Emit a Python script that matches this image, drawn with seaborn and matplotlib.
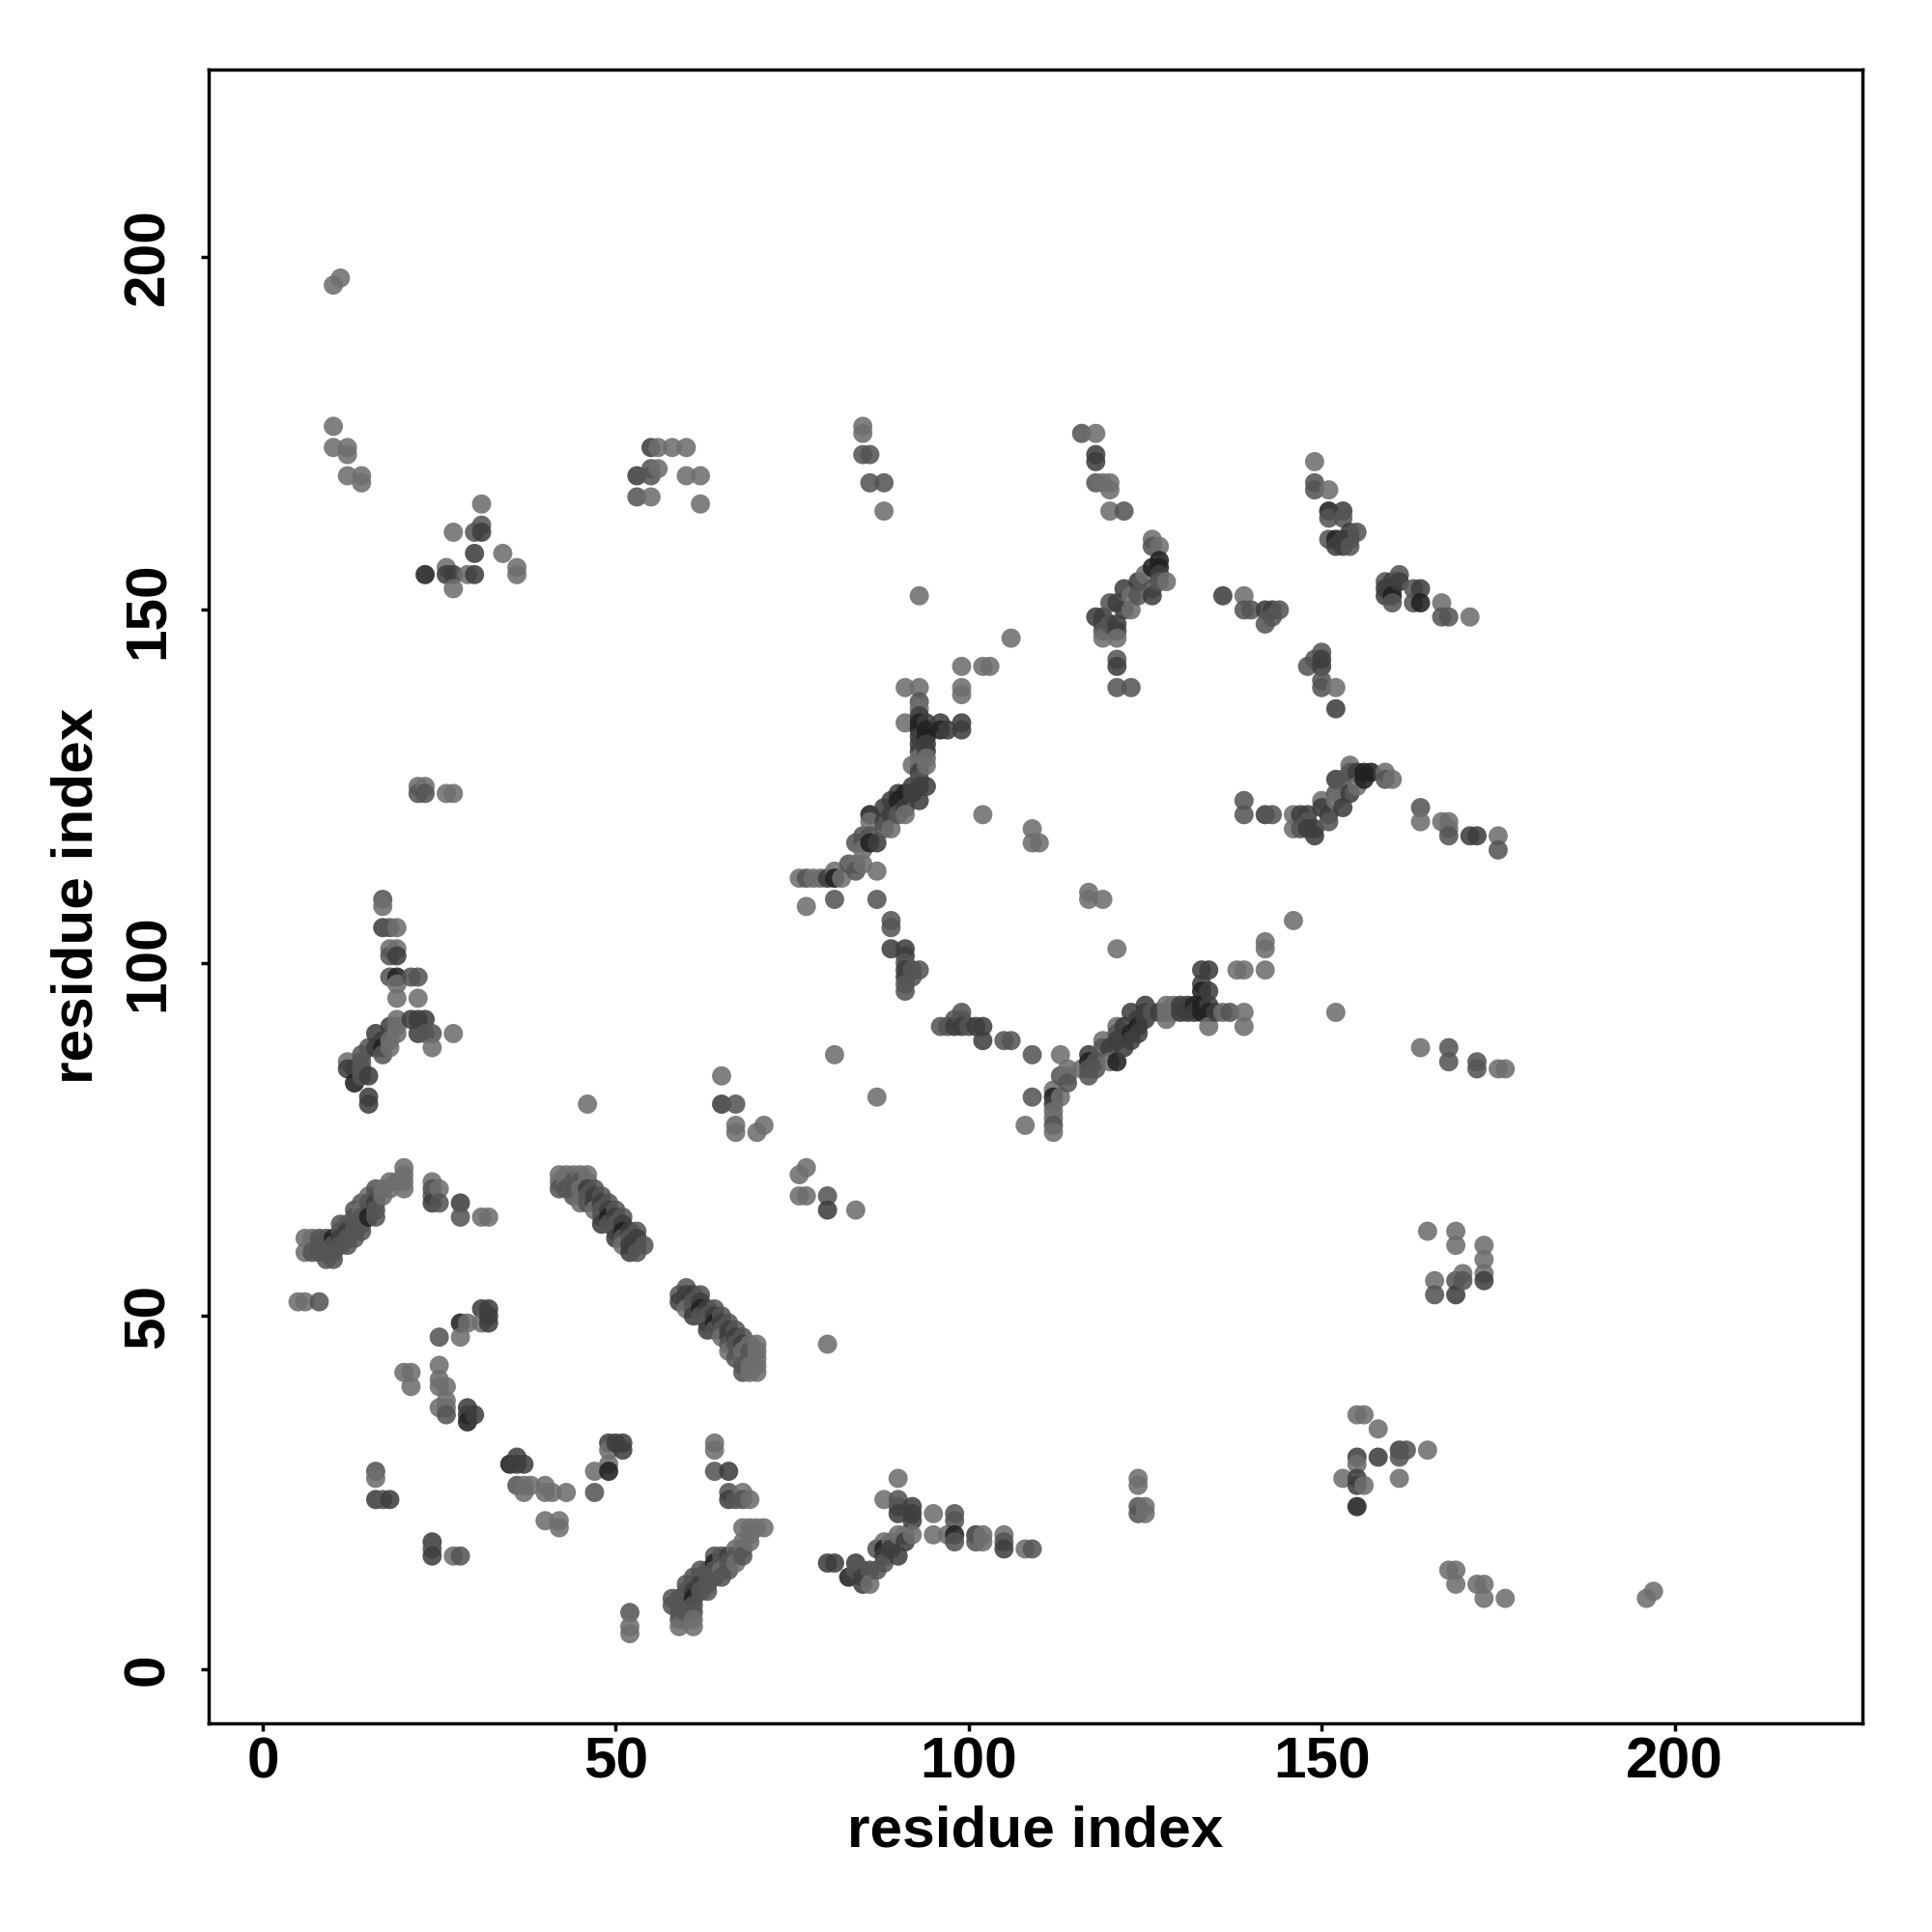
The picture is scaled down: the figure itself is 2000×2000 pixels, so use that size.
import numpy as np
import pandas as pd
import seaborn as sns
import matplotlib
matplotlib.use('Agg')
import matplotlib.pyplot as plt

# contact pairs, grouped by how dark the dot is
contacts_light = [
    (196,10),(197,11),(176,10),(173,10),(172,12),(169,14),(168,14),(169,12),(173,12),
    (165,62),(169,62),(169,60),(173,60),(173,58),(166,55),(170,56),(173,56),
    (156,36),(155,36),(158,34),(165,31),(161,27),(156,26),(153,27),(155,29),
    (42,20),(42,21),(40,21),(43,25),(41,25),(40,25),(40,26),(37,25),(38,26),(37,26),
    (64,32),(64,31),(69,24),(68,25),(27,16),(52,6),(52,5),(49,31),(49,29),(47,28),
    (71,20),(70,20),(69,19),(69,18),(68,18),(68,17),(67,17),(61,6),(61,7),(59,6),
    (90,27),(88,24),(95,22),(95,19),(97,19),(102,19),(102,18),(105,19),(108,17),(91,19),(92,19),(90,19),(88,18),(89,18),(86,12),
    (124,27),(124,26),(125,23),(125,22),
    (146,106),(142,103),(142,99),(138,99),(139,99),(139,93),(139,91),(134,91),(136,93),(152,93),(121,102),
    (117,110),(117,109),(119,109),(164,88),(175,85),(176,85),(113,87),(108,77),(87,81),
    (112,76),(112,79),(112,78),(77,67),(76,67),(76,70),(77,71),(84,65),(80,46),
    (43,68),(42,69),(44,70),(45,70),(46,70),(44,69),(46,69),(45,68),(68,46),(69,46),(70,46),(70,45),(70,43),(70,42),(69,42),(68,42),(69,43),
    (112,82),(114,85),(114,84),(113,81),(116,85),(120,86),(121,91),(119,89),(129,94),(129,93),(128,94),(128,92),(130,94),
    (175,118),(168,119),(167,120),(164,120),(160,126),(159,127),(154,128),(146,121),(146,119),(150,123),(152,123),(155,125),
    (171,149),(167,151),(168,120),(139,150),(139,152),(143,149),(152,139),(146,106),(152,93),(142,103),(142,102),
    (142,99),(139,99),(138,99),(139,91),(139,93),(136,93),(134,91),(128,92),(128,93),(128,94),(129,94),
    (65,14),(67,15),(68,20),(69,20),(60,51),(62,50),(64,48),(45,66),(47,65),(49,63),(51,61),(53,59),
]
contacts_mid = [
    (47,25),(36,26),(28,16),(24,17),(68,24),(67,24),(64,28),(66,25),(52,8),(58,9),(59,10),(60,12),(60,11),(61,9),(61,8),
    (62,14),(64,16),(85,14),(86,14),(84,14),(87,17),(87,14),(88,15),(90,24),(90,23),(98,22),(98,21),(98,18),(101,18),(105,18),(109,17),
    (124,23),(124,22),(166,53),(170,55),(169,55),(161,30),(162,31),
    (134,99),(133,99),(137,93),(134,93),(125,92),(126,93),(121,90),(119,88),(117,84),(118,85),(118,86),(117,85),
    (109,87),(109,81),(106,89),(105,89),(112,81),(112,77),(114,83),(113,84),(100,91),(99,93),(99,92),(98,92),(96,91),(97,91),
    (175,116),(172,86),(172,85),(168,88),(168,86),(164,122),(168,118),(159,126),(154,127),(153,126),(152,124),(151,120),(148,120),(147,119),(143,121),(139,121),(139,123),
    (142,148),(142,150),(144,150),(140,150),(136,152),(150,144),(150,139),(150,140),(149,143),(148,142),(161,155),(159,154),(163,153),(163,151),(167,149),(168,149),(160,151),
    (80,67),(42,68),(47,68),(49,66),(51,64),(53,62),(54,60),(60,54),(62,53),(64,51),(66,49),(68,47),(59,53),(61,53),(63,51),(65,49),(67,47),
    (59,9),(59,8),(60,10),(60,9),(60,8),(61,13),(61,12),(62,13),(62,11),(63,14),(63,13),(63,12),(63,11),(64,14),(64,13),(65,16),(65,15),(65,13),(66,15),(66,14),(67,16),(68,16),(59,7),(58,10),
    (46,68),(48,66),(50,64),(52,62),(44,67),(46,66),(48,64),(50,62),(52,60),(46,67),(48,65),(50,63),(52,61),(61,52),(63,50),(65,48),(67,46),(59,52),(61,51),(63,49),(65,50),(67,48),(69,45),(68,43),(69,44),
]
contacts_dark = [
    (51,32),(50,32),(51,31),(66,28),(66,24),(24,18),(24,16),(36,30),(37,29),(36,29),(49,32),
    (80,15),(81,15),(84,15),(85,13),(85,12),(88,16),(89,17),(90,16),(90,22),(92,23),(92,22),(92,21),(91,18),(101,19),(105,17),
    (155,30),(158,30),(161,31),(155,27),(155,26),(169,53),(173,55),
    (134,96),(135,93),(134,94),(131,94),(132,93),(131,93),(130,93),(127,93),(125,93),(125,94),(124,92),(123,93),(123,89),(122,91),(122,88),(121,89),(120,88),(117,87),(124,90),
    (112,80),(102,89),(102,91),(101,91),(99,91),(98,91),
    (172,118),(171,118),(155,127),(152,126),(153,122),(154,124),(151,121),(150,122),(149,119),(149,118),(148,121),(148,119),(147,121),(142,121),
    (159,153),(160,153),(159,152),(160,154),(161,154),(164,153),(143,150),(150,143),(150,142),(152,136),
    (125,94),(125,93),(125,92),(130,94),(131,94),(130,93),(131,93),(132,94),(133,96),(134,99),(133,99),
    (80,65),(61,11),(62,12),(66,16),(132,93),(133,97),
    (50,61),(51,63),(48,63),(47,66),(47,67),(49,65),(52,59),(53,60),(53,61),(60,52),(60,53),(62,52),(64,50),(66,47),(66,48),(68,46),
]
contacts_black = [
    (35,29),(49,28),(98,19),(83,13),(88,17),(133,94),(132,94),(133,96),(155,23),(164,151),(156,127),(157,127),(160,152),(156,126),
    (61,10),(64,15),(134,93),(133,93),(133,94),
    (49,64),(51,62),(62,51),(64,49),
    (117,86),(124,91),(123,90),(121,86),(112,81),
]
shade_names = ['light', 'mid', 'dark', 'black']
shade_colors = ['#6e6e6e', '#555555', '#3e3e3e', '#212121']
tick_values = [0, 50, 100, 150, 200]

rows = []
for name, pairs in zip(shade_names, [contacts_light, contacts_mid, contacts_dark, contacts_black]):
    for i, j in pairs:
        rows.append((max(i, j), min(i, j), name))
df = pd.DataFrame(rows, columns=['i', 'j', 'shade']).drop_duplicates(['i', 'j'], keep='last')

# the map is symmetric so every pair goes in twice
mirror = df.rename(columns={'i': 'j', 'j': 'i'})
contacts = pd.concat([df, mirror]).sort_values(['i', 'j'], ascending=[True, False])

plt.rcParams['font.family'] = ['Liberation Sans', 'DejaVu Sans']
fig = plt.figure(figsize=(20, 20), dpi=100)
ax = fig.add_axes([216 / 2000, 1 - 1784 / 2000, 1712 / 2000, 1712.5 / 2000])

sns.scatterplot(data=contacts, x='i', y='j', hue='shade', hue_order=shade_names,
                palette=dict(zip(shade_names, shade_colors)), alpha=0.88, s=205,
                linewidth=0, legend=False, ax=ax)

ax.set_xlim(-7.66, 226.6)
ax.set_ylim(-7.7, 226.6)
ax.set_xticks(tick_values)
ax.set_yticks(tick_values)
ax.tick_params(axis='x', length=6, width=2.5, labelsize=43.5, pad=3.5)
ax.tick_params(axis='y', length=6, width=2.5, labelsize=43.5, pad=19)
for lab in ax.get_xticklabels() + ax.get_yticklabels():
    lab.set_fontweight('bold')
for lab in ax.get_yticklabels():
    lab.set_rotation(90)
    lab.set_va('center')
for sp in ax.spines.values():
    sp.set_linewidth(2.5)

ax.set_xlabel('residue index', fontsize=43.5, fontweight='bold', va='center')
ax.set_ylabel('residue index', fontsize=43.5, fontweight='bold', va='center')
ax.xaxis.set_label_coords(0.5, -(1896 - 1784) / 1712.5)
ax.yaxis.set_label_coords(-(216 - 80) / 1712, 0.5)

fig.savefig('out.png', dpi=100, facecolor='white')
